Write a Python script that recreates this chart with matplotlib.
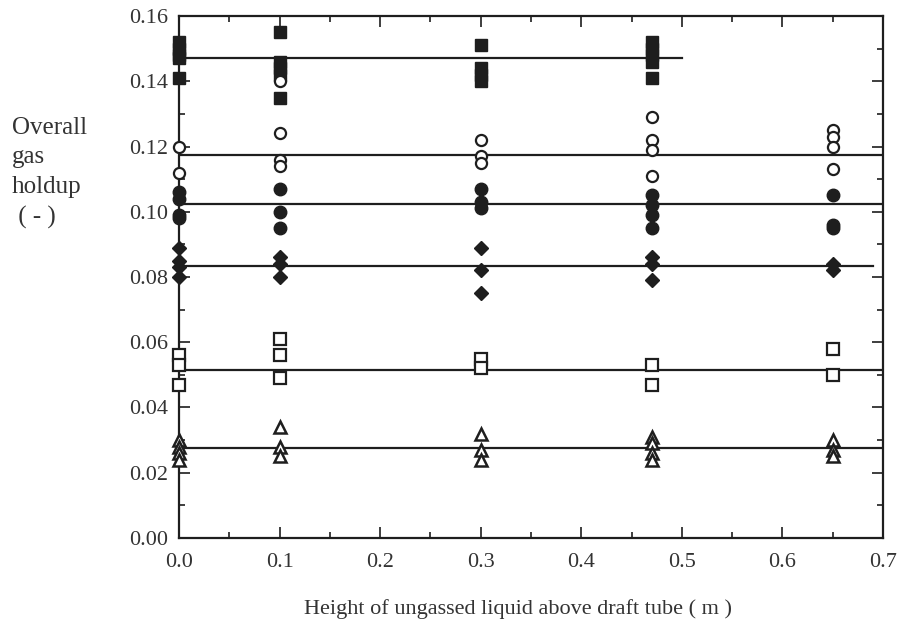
import matplotlib
matplotlib.use("Agg")
import matplotlib.pyplot as plt
from matplotlib.ticker import MultipleLocator, FixedLocator

plt.rcParams['font.family'] = ['Liberation Serif', 'DejaVu Serif']

INK = "#1e1e1e"
TEXT = "#333333"

# Overall gas holdup measured at each height of ungassed liquid above the draft tube
filled_sq_x = [0.0, 0.0, 0.0, 0.0, 0.0, 0.1, 0.1, 0.1, 0.1, 0.1, 0.3, 0.3, 0.3, 0.3, 0.47, 0.47, 0.47, 0.47, 0.47]
filled_sq_y = [0.152, 0.150, 0.148, 0.147, 0.141, 0.155, 0.146, 0.144, 0.142, 0.135, 0.151, 0.144, 0.142, 0.140, 0.152, 0.150, 0.148, 0.146, 0.141]

open_circ_x = [0.0, 0.0, 0.1, 0.1, 0.1, 0.1, 0.3, 0.3, 0.3, 0.47, 0.47, 0.47, 0.47, 0.65, 0.65, 0.65, 0.65]
open_circ_y = [0.120, 0.112, 0.140, 0.124, 0.116, 0.114, 0.122, 0.117, 0.115, 0.129, 0.122, 0.119, 0.111, 0.125, 0.123, 0.120, 0.113]

filled_circ_x = [0.0, 0.0, 0.0, 0.0, 0.1, 0.1, 0.1, 0.3, 0.3, 0.3, 0.47, 0.47, 0.47, 0.47, 0.65, 0.65, 0.65]
filled_circ_y = [0.106, 0.104, 0.099, 0.098, 0.107, 0.100, 0.095, 0.107, 0.103, 0.101, 0.105, 0.102, 0.099, 0.095, 0.105, 0.096, 0.095]

diamond_x = [0.0, 0.0, 0.0, 0.0, 0.1, 0.1, 0.1, 0.3, 0.3, 0.3, 0.47, 0.47, 0.47, 0.65, 0.65]
diamond_y = [0.089, 0.085, 0.083, 0.080, 0.086, 0.084, 0.080, 0.089, 0.082, 0.075, 0.086, 0.084, 0.079, 0.084, 0.082]

open_sq_x = [0.0, 0.0, 0.0, 0.1, 0.1, 0.1, 0.3, 0.3, 0.47, 0.47, 0.65, 0.65]
open_sq_y = [0.056, 0.053, 0.047, 0.061, 0.056, 0.049, 0.055, 0.052, 0.053, 0.047, 0.058, 0.050]

tri_x = [0.0, 0.0, 0.0, 0.0, 0.1, 0.1, 0.1, 0.3, 0.3, 0.3, 0.47, 0.47, 0.47, 0.47, 0.65, 0.65, 0.65]
tri_y = [0.030, 0.028, 0.026, 0.024, 0.034, 0.028, 0.025, 0.032, 0.027, 0.024, 0.031, 0.029, 0.026, 0.024, 0.030, 0.027, 0.025]

# Mean holdup lines: level and end of each line (all start at 0)
mean_levels = [0.147, 0.1175, 0.1025, 0.0835, 0.0515, 0.0275]
mean_x_end = [0.50, 0.70, 0.70, 0.69, 0.70, 0.70]

x_ticks = [0.0, 0.1, 0.2, 0.3, 0.4, 0.5, 0.6, 0.7]
x_tick_labels = ["0.0", "0.1", "0.2", "0.3", "0.4", "0.5", "0.6", "0.7"]
y_ticks = [0.00, 0.02, 0.04, 0.06, 0.08, 0.10, 0.12, 0.14, 0.16]
y_tick_labels = ["0.00", "0.02", "0.04", "0.06", "0.08", "0.10", "0.12", "0.14", "0.16"]

fig = plt.figure(figsize=(9.01, 6.21), dpi=100)
ax = fig.add_axes([0.1987, 0.1337, 0.7813, 0.8405])

for lvl, xe in zip(mean_levels, mean_x_end):
    ax.plot([0.0, xe], [lvl, lvl], color=INK, lw=1.6, zorder=2)

ms = 8
mk = dict(ls="none", clip_on=False, zorder=3)
ax.plot(filled_sq_x, filled_sq_y, marker="s", ms=ms, mfc=INK, mec=INK, **mk)
ax.plot(open_circ_x, open_circ_y, marker="o", ms=ms, mfc="white", mec=INK, mew=1.6, **mk)
ax.plot(filled_circ_x, filled_circ_y, marker="o", ms=ms + 1, mfc=INK, mec=INK, **mk)
ax.plot(diamond_x, diamond_y, marker="D", ms=ms - 1, mfc=INK, mec=INK, **mk)
ax.plot(open_sq_x, open_sq_y, marker="s", ms=ms, mfc="white", mec=INK, mew=1.6, **mk)
ax.plot(tri_x, tri_y, marker="^", ms=ms, mfc="white", mec=INK, mew=1.8, **mk)

ax.set_xlim(0.0, 0.7)
ax.set_ylim(0.0, 0.16)
ax.xaxis.set_major_locator(FixedLocator(x_ticks))
ax.set_xticklabels(x_tick_labels)
ax.xaxis.set_minor_locator(MultipleLocator(0.05))
ax.yaxis.set_major_locator(FixedLocator(y_ticks))
ax.set_yticklabels(y_tick_labels)
ax.yaxis.set_minor_locator(MultipleLocator(0.01))

ax.tick_params(which="both", direction="in", top=True, right=True, colors=INK,
               labelsize=16, width=1.2)
ax.tick_params(which="major", length=8)
ax.tick_params(which="minor", length=4)
ax.tick_params(axis="x", which="major", pad=11)
ax.tick_params(axis="y", which="major", pad=8)
for s in ax.spines.values():
    s.set_color(INK)
    s.set_linewidth(1.6)
for lab in ax.get_xticklabels() + ax.get_yticklabels():
    lab.set_color(TEXT)

ax.set_xlabel("Height of ungassed liquid above draft tube ( m )", fontsize=16, color=TEXT)
ax.xaxis.set_label_coords(0.481, -0.118)
fig.text(0.013, 0.812, "Overall\ngas\nholdup\n ( - )", fontsize=18, color=TEXT,
         ha="left", va="top", linespacing=1.45)

fig.savefig("out.png", dpi=100, facecolor="white")
